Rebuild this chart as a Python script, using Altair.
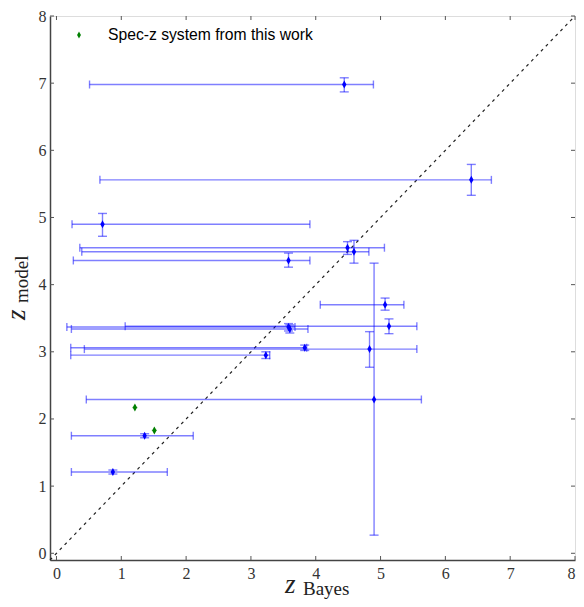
import altair as alt
import pandas as pd

# ---- data ----
z_bayes = [4.44, 6.40, 0.71, 4.49, 4.59, 3.58, 5.07, 5.13, 3.58, 3.60, 3.83, 4.83, 3.23, 4.90, 1.36, 0.87]
z_model = [6.98, 5.56, 4.90, 4.55, 4.49, 4.36, 3.70, 3.38, 3.37, 3.34, 3.06, 3.04, 2.95, 2.29, 1.75, 1.21]
bayes_lo = [0.51, 0.67, 0.24, 0.36, 0.39, 0.26, 4.07, 1.06, 0.16, 0.23, 0.22, 0.43, 0.22, 0.46, 0.23, 0.23]
bayes_hi = [4.89, 6.71, 3.91, 5.06, 4.82, 3.91, 5.36, 5.56, 3.68, 3.88, 3.86, 5.56, 3.29, 5.63, 2.11, 1.71]
model_lo = [6.87, 5.33, 4.72, 4.45, 4.32, 4.26, 3.62, 3.27, 3.31, 3.28, 3.02, 2.77, 2.90, 0.27, 1.72, 1.18]
model_hi = [7.08, 5.79, 5.06, 4.64, 4.66, 4.47, 3.80, 3.49, 3.42, 3.40, 3.10, 3.30, 3.00, 4.32, 1.78, 1.24]

spec_bayes = [1.21, 1.51]
spec_model = [2.17, 1.83]
spec_bayes_err = [0.04, 0.04]
spec_model_err = [0.03, 0.04]

legend_labels = ["Spec-z system from this work"]
tick_values = [0, 1, 2, 3, 4, 5, 6, 7, 8]
axis_range = [-0.1, 8]

W, H = 525, 544
BLUE = "#0000ff"
GREEN = "#008000"
SERIF = "Liberation Serif"

df = pd.DataFrame({"x": z_bayes, "y": z_model, "xlo": bayes_lo, "xhi": bayes_hi,
                   "ylo": model_lo, "yhi": model_hi})
caps_x = pd.DataFrame({"x": bayes_lo + bayes_hi, "y": z_model + z_model})
caps_y = pd.DataFrame({"x": z_bayes + z_bayes, "y": model_lo + model_hi})

sp = pd.DataFrame({"x": spec_bayes, "y": spec_model,
                   "xlo": [a - e for a, e in zip(spec_bayes, spec_bayes_err)],
                   "xhi": [a + e for a, e in zip(spec_bayes, spec_bayes_err)],
                   "ylo": [a - e for a, e in zip(spec_model, spec_model_err)],
                   "yhi": [a + e for a, e in zip(spec_model, spec_model_err)]})
diag = pd.DataFrame({"x": axis_range, "y": axis_range})
ticks = pd.DataFrame({"t": tick_values})
leg = pd.DataFrame({"label": legend_labels})

xs = alt.Scale(domain=axis_range, nice=False, zero=False)
ys = alt.Scale(domain=axis_range, nice=False, zero=False)

xaxis = alt.Axis(values=tick_values, format="d", ticks=False, grid=False,
                 labelFont=SERIF, labelFontSize=16, labelColor="#333333", labelPadding=5,
                 domainColor="#444444", domainWidth=1.5, title=None)
yaxis = alt.Axis(values=tick_values, format="d", ticks=False, grid=False,
                 labelFont=SERIF, labelFontSize=16, labelColor="#333333", labelPadding=4,
                 domainColor="#444444", domainWidth=1.5, title=None)

X = lambda f="x": alt.X(f"{f}:Q", scale=xs, axis=xaxis)
Y = lambda f="y": alt.Y(f"{f}:Q", scale=ys, axis=yaxis)

diag_line = alt.Chart(diag).mark_line(color="#222222", strokeWidth=1.2, strokeDash=[3, 4]).encode(
    x=X(), y=Y())

ebar_style = dict(color=BLUE, opacity=0.5, strokeWidth=1.4)
hbars = alt.Chart(df).mark_rule(**ebar_style).encode(x=X("xlo"), x2="xhi:Q", y=Y())
vbars = alt.Chart(df).mark_rule(**ebar_style).encode(y=Y("ylo"), y2="yhi:Q", x=X())
hcaps = alt.Chart(caps_x).mark_tick(orient="vertical", size=8, thickness=1.4, color=BLUE,
                                     opacity=0.5).encode(x=X(), y=Y())
vcaps = alt.Chart(caps_y).mark_tick(orient="horizontal", size=9, thickness=1.4, color=BLUE,
                                     opacity=0.5).encode(x=X(), y=Y())

DIAMOND = "M0,-1L0.55,0L0,1L-0.55,0Z"
pts = alt.Chart(df).mark_point(shape=DIAMOND, filled=True, size=64, color=BLUE, opacity=1,
                               strokeWidth=0).encode(x=X(), y=Y())

g_style = dict(color=GREEN, opacity=0.45, strokeWidth=1.4)
g_h = alt.Chart(sp).mark_rule(**g_style).encode(x=X("xlo"), x2="xhi:Q", y=Y())
g_v = alt.Chart(sp).mark_rule(**g_style).encode(y=Y("ylo"), y2="yhi:Q", x=X())
g_pts = alt.Chart(sp).mark_point(shape=DIAMOND, filled=True, size=64, color=GREEN, opacity=1,
                                 strokeWidth=0).encode(x=X(), y=Y())

leg_pt = alt.Chart(leg).mark_point(shape=DIAMOND, filled=True, size=50, color=GREEN, opacity=1,
                                   strokeWidth=0).encode(x=alt.value(29), y=alt.value(19))
leg_txt = alt.Chart(leg).mark_text(align="left", baseline="middle", font="Liberation Sans",
                                   fontSize=15.7, color="black").encode(
    x=alt.value(58), y=alt.value(19), text="label:N")

tick_style = dict(color="#555555", strokeWidth=1)
t_bottom = alt.Chart(ticks).mark_rule(**tick_style).encode(x=X("t"), y=alt.value(H), y2=alt.value(H - 4))
t_top = alt.Chart(ticks).mark_rule(**tick_style).encode(x=X("t"), y=alt.value(0), y2=alt.value(4))
t_left = alt.Chart(ticks).mark_rule(**tick_style).encode(y=Y("t"), x=alt.value(0), x2=alt.value(4))
t_right = alt.Chart(ticks).mark_rule(**tick_style).encode(y=Y("t"), x=alt.value(W), x2=alt.value(W - 4))

xt_z = alt.Chart(leg).mark_text(text="z", font=SERIF, fontStyle="italic", fontSize=27,
                                align="left", baseline="alphabetic", color="#222222").encode(
    x=alt.value(235), y=alt.value(577))
xt_s = alt.Chart(leg).mark_text(text="Bayes", font=SERIF, fontSize=19,
                                align="left", baseline="alphabetic", color="#222222").encode(
    x=alt.value(253), y=alt.value(579))
yt_z = alt.Chart(leg).mark_text(text="z", font=SERIF, fontStyle="italic", fontSize=27, angle=270,
                                align="left", baseline="alphabetic", color="#222222").encode(
    x=alt.value(-25), y=alt.value(304))
yt_s = alt.Chart(leg).mark_text(text="model", font=SERIF, fontSize=19, angle=270,
                                align="left", baseline="alphabetic", color="#222222").encode(
    x=alt.value(-22), y=alt.value(287))

chart = alt.layer(
    diag_line, hbars, vbars, hcaps, vcaps, pts, g_h, g_v, g_pts,
    leg_pt, leg_txt, t_bottom, t_top, t_left, t_right, xt_z, xt_s, yt_z, yt_s
).properties(
    width=W, height=H,
    autosize=alt.AutoSizeParams(type="none"),
    padding={"left": 42, "top": 8, "right": 1, "bottom": 39},
).configure_view(stroke="#999999", strokeWidth=1.5).configure(background="white")

chart.save("out.html", embed_options={"renderer": "svg", "actions": False})
